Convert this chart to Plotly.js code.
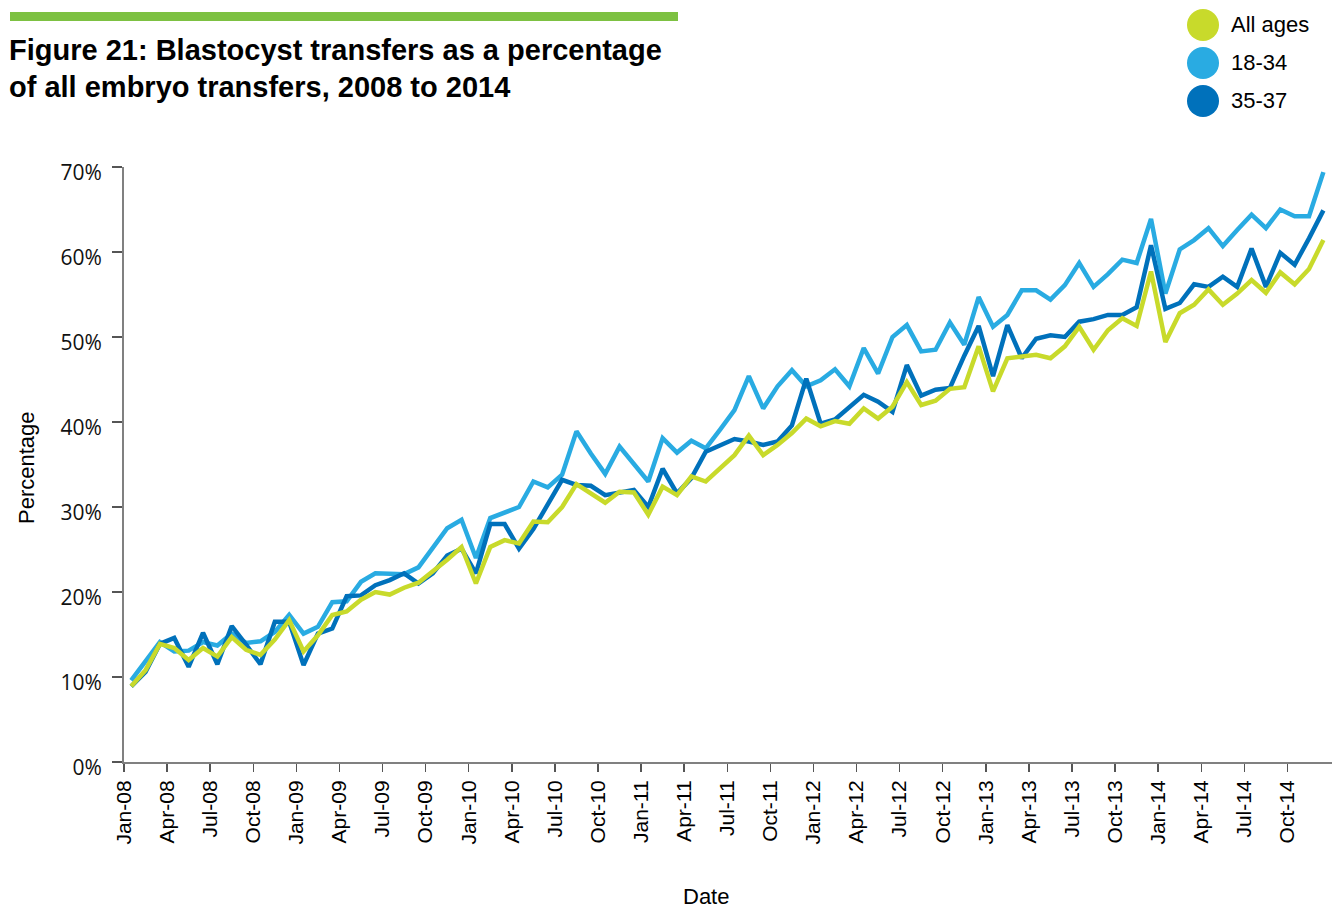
<!DOCTYPE html>
<html>
<head>
<meta charset="utf-8">
<script src="https://cdn.plot.ly/plotly-3.0.1.min.js"></script>
<style>html,body{margin:0;padding:0;background:#fff;}#chart{width:1332px;height:910px;}</style>
</head>
<body>
<div id="chart"></div>
<script>
// ---- data (monthly, Jan-08 .. Dec-14) ----
const monthNames = ["Jan","Feb","Mar","Apr","May","Jun","Jul","Aug","Sep","Oct","Nov","Dec"];
const years = ["08","09","10","11","12","13","14"];
const seriesNames = ["All ages","18-34","35-37"];

const allAges = [
  8.9,10.8,13.9,13.4,12.0,13.4,12.4,14.7,13.2,12.6,14.4,16.7,
  13.0,14.9,17.3,17.7,19.1,20.0,19.7,20.5,21.1,22.4,23.8,25.3,
  21.0,25.3,26.1,25.7,28.3,28.2,30.0,32.7,31.6,30.5,31.8,31.7,
  29.1,32.4,31.4,33.6,33.0,34.5,36.1,38.4,36.1,37.3,38.7,40.4,
  39.5,40.1,39.8,41.6,40.4,41.8,44.7,42.0,42.5,43.9,44.1,48.9,
  43.6,47.5,47.7,47.9,47.5,48.9,51.2,48.5,50.8,52.2,51.3,57.7,
  49.4,52.8,53.8,55.6,53.8,55.1,56.7,55.2,57.6,56.2,58.0,61.4
];
const ages18to34 = [
  9.6,11.8,14.1,13.0,13.1,14.1,13.7,15.1,14.0,14.2,15.3,17.3,
  15.1,15.9,18.8,18.9,21.2,22.2,22.2,22.1,22.9,25.1,27.5,28.5,
  24.0,28.7,29.3,30.0,33.0,32.3,33.8,38.9,36.3,33.9,37.1,35.1,
  33.0,38.1,36.4,37.8,36.9,39.1,41.4,45.4,41.6,44.2,46.1,44.2,
  44.9,46.2,44.2,48.7,45.7,50.0,51.4,48.3,48.5,51.7,49.1,54.7,
  51.2,52.6,55.5,55.5,54.4,56.1,58.7,55.9,57.4,59.1,58.7,63.9,
  55.1,60.3,61.4,62.8,60.7,62.6,64.4,62.8,65.0,64.2,64.2,69.4
];
const ages35to37 = [
  8.9,10.6,13.9,14.6,11.2,15.2,11.5,16.0,13.8,11.5,16.5,16.5,
  11.4,15.1,15.7,19.5,19.6,20.8,21.4,22.2,21.0,22.2,24.3,25.1,
  22.2,28.0,28.0,25.1,27.4,30.3,33.2,32.6,32.5,31.4,31.7,32.0,
  30.0,34.5,31.6,33.4,36.5,37.3,38.0,37.7,37.3,37.7,39.6,45.1,
  39.8,40.3,41.8,43.2,42.4,41.2,46.7,43.1,43.8,44.0,47.8,51.3,
  45.4,51.4,47.5,49.8,50.2,50.0,51.8,52.1,52.6,52.6,53.5,60.8,
  53.3,54.0,56.2,55.9,57.1,55.9,60.4,55.9,59.9,58.5,61.6,64.9
];
const yTickValues = [0,10,20,30,40,50,60,70];
const yTickLabels = ["0%","10%","20%","30%","40%","50%","60%","70%"];

// ---- build categories ----
const months = [];
years.forEach(y => monthNames.forEach(m => months.push(m + "-" + y)));
const xIdx = months.map((_, i) => i);
const tickVals = [], tickText = [];
for (let i = 0; i < months.length; i += 3) { tickVals.push(i - 0.5); tickText.push(months[i]); }

const colors = {lime: "#c8da2b", light: "#29abe2", dark: "#0071bb"};

// layout geometry helpers (pixel -> paper)
const W = 1332, H = 910, L = 124, R = 0, T = 167, B = 148;
const pw = W - L - R, ph = H - T - B;
const px = v => (v - L) / pw;
const py = v => (H - B - v) / ph;

function lineTrace(y, name, color) {
  return {
    x: xIdx, y: y, name: name, type: "scatter", mode: "lines",
    text: months, hovertemplate: "%{text}: %{y:.1f}%<extra>" + name + "</extra>",
    line: {color: color, width: 4.5, shape: "linear"}, showlegend: false
  };
}

const traces = [
  lineTrace(ages18to34, seriesNames[1], colors.light),
  lineTrace(ages35to37, seriesNames[2], colors.dark),
  lineTrace(allAges, seriesNames[0], colors.lime)
];

const legendColors = [colors.lime, colors.light, colors.dark];
const legendY = [25, 63, 101];
const titleFont = {family: "Liberation Sans, Arial, sans-serif", size: 29, color: "#000"};
const textFont = {family: "Liberation Sans, Arial, sans-serif", size: 22, color: "#000"};
const shapes = [
  {type: "rect", xref: "paper", yref: "paper", x0: px(10), x1: px(678), y0: py(21), y1: py(12),
   fillcolor: "#7dc142", line: {width: 0}}
];
const annotations = [
  {xref: "paper", yref: "paper", x: px(7), y: py(50), xanchor: "left", yanchor: "middle", showarrow: false,
   text: "<b>Figure 21: Blastocyst transfers as a percentage</b>", font: titleFont},
  {xref: "paper", yref: "paper", x: px(7), y: py(87), xanchor: "left", yanchor: "middle", showarrow: false,
   text: "<b>of all embryo transfers, 2008 to 2014</b>", font: titleFont},
  {xref: "paper", yref: "paper", x: px(26), y: py(468), xanchor: "center", yanchor: "middle", showarrow: false,
   textangle: -90, text: "Percentage", font: textFont},
  {xref: "paper", yref: "paper", x: px(706), y: py(896), xanchor: "center", yanchor: "middle", showarrow: false,
   text: "Date", font: textFont}
];
seriesNames.forEach((n, k) => {
  shapes.push({type: "circle", xref: "paper", yref: "paper", xsizemode: "pixel", ysizemode: "pixel",
    xanchor: px(1203), yanchor: py(legendY[k]), x0: -16, x1: 16, y0: -16, y1: 16,
    fillcolor: legendColors[k], line: {width: 0}});
  annotations.push({xref: "paper", yref: "paper", x: px(1229), y: py(legendY[k]), xanchor: "left", yanchor: "middle",
    showarrow: false, text: n, font: textFont});
});

const layout = {
  width: W, height: H, autosize: false,
  margin: {l: L, r: R, t: T, b: B, pad: 0},
  paper_bgcolor: "#fff", plot_bgcolor: "#fff",
  showlegend: false,
  xaxis: {
    range: [-0.5, 83.6], tickmode: "array", tickvals: tickVals, ticktext: tickText,
    tickangle: -90, ticks: "outside", ticklen: 8, tickwidth: 1.5, tickcolor: "#555",
    showline: true, linecolor: "#808080", linewidth: 2, showgrid: false, zeroline: false,
    tickfont: {family: "Liberation Sans, Arial, sans-serif", size: 21, color: "#000"}
  },
  yaxis: {
    range: [0, 70], tickmode: "array", tickvals: yTickValues, ticktext: yTickLabels,
    ticks: "outside", ticklen: 10, tickwidth: 1.5, tickcolor: "#555",
    showline: true, linecolor: "#808080", linewidth: 2, showgrid: false, zeroline: false,
    ticklabelstandoff: 6, ticklabelshift: 6,
    tickfont: {family: "Open Sans, sans-serif", size: 21, color: "#111"}
  },
  shapes: shapes,
  annotations: annotations
};

Plotly.newPlot("chart", traces, layout, {displayModeBar: false, staticPlot: true});
</script>
</body>
</html>
